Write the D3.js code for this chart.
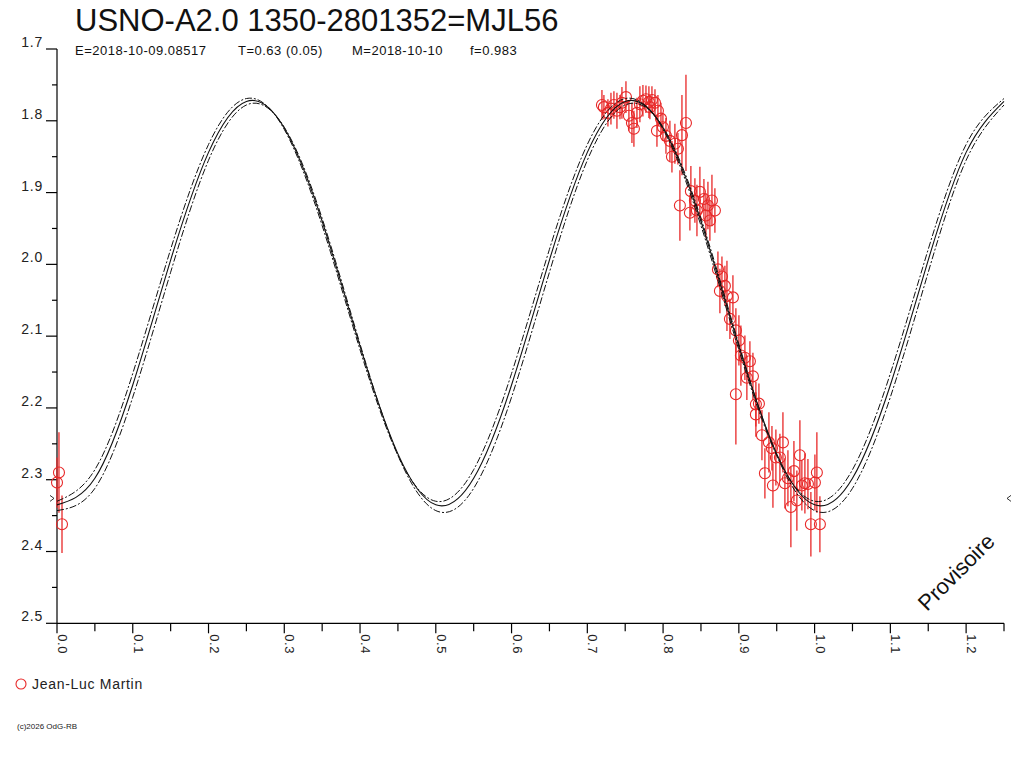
<!DOCTYPE html>
<html><head><meta charset="utf-8">
<script src="https://cdn.jsdelivr.net/npm/d3@7"></script>
<style>
html,body{margin:0;padding:0;background:#fff;}
text{font-family:"Liberation Sans",Arial,sans-serif;}
</style></head>
<body>
<svg id="chart" width="1024" height="768"></svg>
<script>
// ---------- data ----------
const titleText = "USNO-A2.0 1350-2801352=MJL56";
const infoTexts = ["E=2018-10-09.08517", "T=0.63 (0.05)", "M=2018-10-10", "f=0.983"];
const observer = "Jean-Luc Martin";
const footer = "(c)2026 OdG-RB";
const stamp = "Provisoire";

const xTicks = [0,0.05,0.1,0.15,0.2,0.25,0.3,0.35,0.4,0.45,0.5,0.55,0.6,0.65,0.7,0.75,0.8,0.85,0.9,0.95,1.0,1.05,1.1,1.15,1.2,1.25];
const yTicks = [1.7,1.75,1.8,1.85,1.9,1.95,2.0,2.05,2.1,2.15,2.2,2.25,2.3,2.35,2.4,2.45,2.5];
const minMarkMag = 2.326;

// observations: phase, magnitude, error
const phases = [0.7193,0.7219,0.7272,0.7312,0.7351,0.7391,0.7431,0.7457,0.7510,0.7549,0.7589,0.7615,0.7655,0.7694,0.7734,0.7774,0.7813,0.7853,0.7893,0.7826,0.7932,0.7972,0.7998,0.7919,0.8038,0.8090,0.8156,0.8117,0.8302,0.8249,0.8222,0.8196,
0.8367,0.8420,0.8486,0.8539,0.8592,0.8645,0.8684,0.8447,0.8565,0.8354,0.8618,
0.8724,0.8777,0.8750,0.8816,0.8843,0.8922,0.8882,0.8961,0.9001,0.9027,0.9080,0.9146,0.9106,0.9186,0.8961,0.9225,0.9225,0.9265,0.9305,0.9397,0.9437,0.9582,0.9489,0.9542,0.9806,0.9344,0.9450,0.9608,0.9727,0.9648,0.9872,0.9912,1.0004,1.0030,0.9687,0.9766,0.9951,1.0070,0.9832,
0.0026,0.0000,0.0066];
const mags = [1.778,1.781,1.789,1.783,1.778,1.786,1.781,1.775,1.767,1.793,1.803,1.811,1.789,1.777,1.772,1.770,1.774,1.771,1.775,1.781,1.786,1.797,1.809,1.814,1.821,1.828,1.832,1.850,1.803,1.820,1.918,1.839,
1.898,1.911,1.899,1.909,1.918,1.911,1.925,1.925,1.932,1.928,1.939,
2.007,2.017,2.037,2.030,2.044,2.046,2.076,2.092,2.106,2.127,2.130,2.135,2.158,2.156,2.181,2.195,2.209,2.194,2.238,2.248,2.256,2.248,2.269,2.269,2.266,2.291,2.308,2.305,2.288,2.298,2.305,2.306,2.304,2.290,2.338,2.329,2.362,2.362,2.308,
2.290,2.304,2.362];
const errs = [0.021,0.017,0.019,0.022,0.019,0.025,0.017,0.022,0.022,0.021,0.028,0.025,0.021,0.025,0.022,0.019,0.022,0.019,0.019,0.017,0.022,0.022,0.019,0.022,0.025,0.028,0.028,0.022,0.067,0.056,0.049,0.022,
0.035,0.031,0.035,0.028,0.033,0.036,0.031,0.036,0.031,0.025,0.028,
0.025,0.028,0.031,0.028,0.049,0.031,0.028,0.031,0.035,0.042,0.031,0.028,0.031,0.033,0.070,0.031,0.031,0.028,0.035,0.042,0.031,0.042,0.039,0.033,0.049,0.035,0.031,0.035,0.042,0.039,0.042,0.035,0.039,0.056,0.056,0.042,0.045,0.039,0.035,
0.056,0.035,0.040];

// fitted light curve (mean and envelope), sampled every 0.05 in phase
const curvePhases = [0,0.05,0.1,0.15,0.2,0.25,0.3,0.35,0.4,0.45,0.5,0.55,0.6,0.65,0.7,0.75,0.8,0.85,0.9,0.95,1.0,1.05,1.1,1.15,1.2,1.25];
const curveMid = [2.335,2.298,2.168,1.994,1.844,1.773,1.810,1.940,2.114,2.264,2.335,2.298,2.168,1.994,1.844,1.773,1.810,1.940,2.114,2.264,2.335,2.298,2.168,1.994,1.844,1.773];
const curveUpper = [2.330,2.286,2.152,1.979,1.833,1.769,1.812,1.946,2.119,2.266,2.330,2.286,2.152,1.979,1.833,1.769,1.812,1.946,2.119,2.266,2.330,2.286,2.152,1.979,1.833,1.769];
const curveLower = [2.343,2.312,2.185,2.011,1.855,1.778,1.809,1.936,2.111,2.266,2.343,2.312,2.185,2.011,1.855,1.778,1.809,1.936,2.111,2.266,2.343,2.312,2.185,2.011,1.855,1.778];

// ---------- drawing ----------
const svg = d3.select("#chart");
const red = "#e82828";
const x = d3.scaleLinear().domain([0, 1.25]).range([57, 1004]);
const y = d3.scaleLinear().domain([1.7, 2.5]).range([49, 623.3]);
const fmt = d3.format(".1f");

// title and info
svg.append("text").attr("x", 75).attr("y", 31).attr("font-size", 31).attr("fill", "#111").text(titleText);
const infoX = [75, 238, 352, 470];
infoTexts.forEach((t, i) => {
  svg.append("text").attr("x", infoX[i]).attr("y", 55).attr("font-size", 13)
    .attr("letter-spacing", 0.5).attr("fill", "#111").text(t);
});

// axes
const ax = svg.append("g").attr("stroke", "#000").attr("stroke-width", 1.2);
ax.append("line").attr("x1", x(0)).attr("x2", x(0)).attr("y1", y(1.7)).attr("y2", y(2.5));
ax.append("line").attr("x1", x(0)).attr("x2", x(1.25)).attr("y1", y(2.5)).attr("y2", y(2.5));

yTicks.forEach((v, i) => {
  const major = i % 2 === 0;
  ax.append("line").attr("x1", x(0) - (major ? 11 : 5)).attr("x2", x(0))
    .attr("y1", y(v)).attr("y2", y(v));
  if (major) {
    svg.append("text").attr("x", 43).attr("y", y(v) - 2).attr("text-anchor", "end")
      .attr("font-size", 14).attr("letter-spacing", 0.8).attr("fill", "#222").text(fmt(v));
  }
});
xTicks.forEach((v, i) => {
  const major = i % 2 === 0;
  ax.append("line").attr("x1", x(v)).attr("x2", x(v))
    .attr("y1", y(2.5)).attr("y2", y(2.5) + (major ? 10 : 8));
  if (major) {
    svg.append("text").attr("transform", `translate(${x(v) + 1},${y(2.5) + 11}) rotate(90)`)
      .attr("font-size", 13).attr("letter-spacing", 0.5).attr("fill", "#222").text(fmt(v));
  }
});

// min markers
const ym = y(minMarkMag);
svg.append("path").attr("d", `M${x(0)-7},${ym-3}L${x(0)-3},${ym}L${x(0)-7},${ym+3}`)
  .attr("fill", "none").attr("stroke", "#000").attr("stroke-width", 0.8);
svg.append("path").attr("d", `M${x(1.25)+7},${ym-3}L${x(1.25)+3},${ym}L${x(1.25)+7},${ym+3}`)
  .attr("fill", "none").attr("stroke", "#000").attr("stroke-width", 0.8);

// observations
const obs = phases.map((p, i) => ({p, m: mags[i], e: errs[i]}));
const gObs = svg.append("g");
gObs.selectAll("line.err").data(obs).join("line").attr("class", "err")
  .attr("x1", d => x(d.p)).attr("x2", d => x(d.p))
  .attr("y1", d => y(d.m - d.e)).attr("y2", d => y(d.m + d.e))
  .attr("stroke", red).attr("stroke-width", 1.3);
gObs.selectAll("circle").data(obs).join("circle")
  .attr("cx", d => x(d.p)).attr("cy", d => y(d.m)).attr("r", 5.5)
  .attr("fill", "none").attr("stroke", red).attr("stroke-width", 1.1);

// curves
const line = d3.line().x(d => x(d[0])).y(d => y(d[1])).curve(d3.curveNatural);
const mk = arr => curvePhases.map((p, i) => [p, arr[i]]);
svg.append("path").attr("d", line(mk(curveUpper))).attr("fill", "none")
  .attr("stroke", "#111").attr("stroke-width", 1).attr("stroke-dasharray", "7,2,2,2");
svg.append("path").attr("d", line(mk(curveLower))).attr("fill", "none")
  .attr("stroke", "#111").attr("stroke-width", 1).attr("stroke-dasharray", "7,2,2,2");
svg.append("path").attr("d", line(mk(curveMid))).attr("fill", "none")
  .attr("stroke", "#111").attr("stroke-width", 1.1);

// stamp
svg.append("text").attr("transform", "translate(927,612) rotate(-45)")
  .attr("font-size", 22).attr("fill", "#111").text(stamp);

// legend
svg.append("circle").attr("cx", 21).attr("cy", 684).attr("r", 5).attr("fill", "none")
  .attr("stroke", red).attr("stroke-width", 1.1);
svg.append("text").attr("x", 32).attr("y", 688.5).attr("font-size", 14)
  .attr("letter-spacing", 0.7).attr("fill", "#222").text(observer);

// footer
svg.append("text").attr("x", 17).attr("y", 729).attr("font-size", 8)
  .attr("fill", "#222").text(footer);
</script>
</body></html>
